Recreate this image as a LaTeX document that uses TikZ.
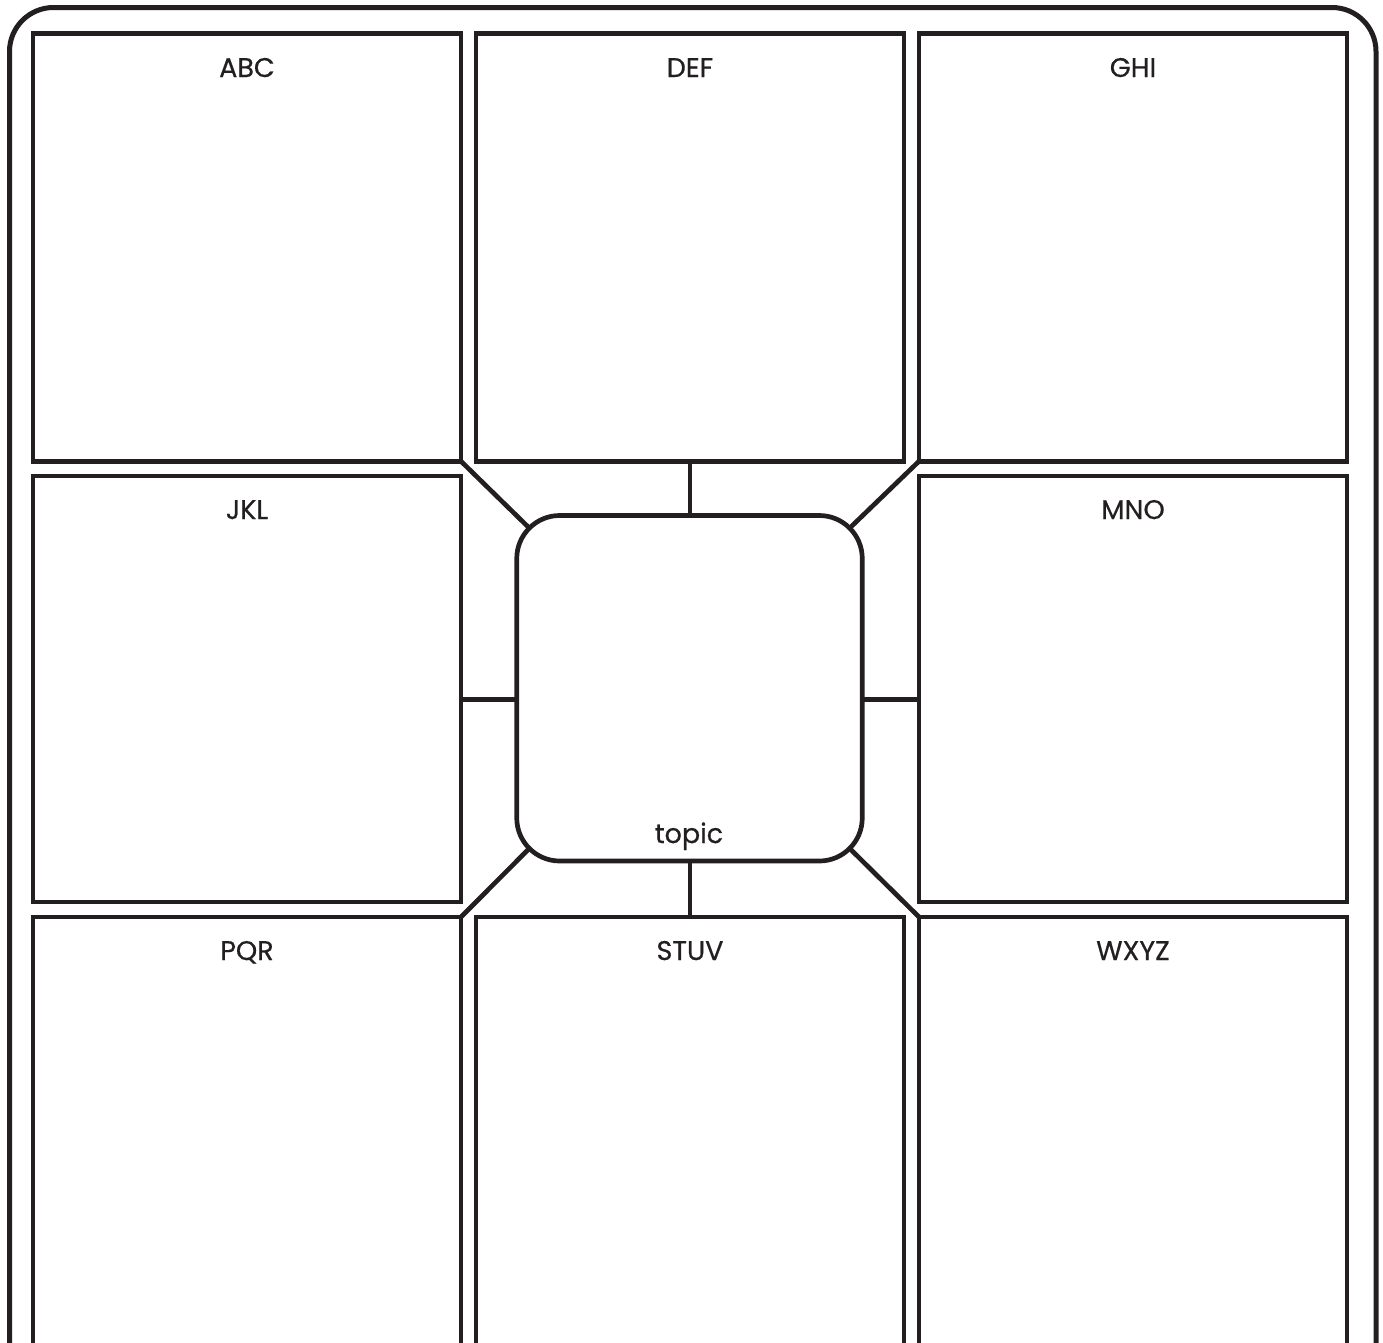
\documentclass[tikz,border=0pt]{standalone}
\usepackage{fontspec}
\setmainfont{Poppins}
\newfontfamily\lblfont{Poppins}[FakeBold=0.6]
\definecolor{ink}{RGB}{35,31,32}
\begin{document}
\begin{tikzpicture}[x=1pt,y=-1pt,
  line/.style={draw=ink,line width=4.7pt},
  box/.style={line,rectangle,inner sep=0pt,outer sep=0pt,minimum width=428pt},
  lbl/.style={anchor=base,inner sep=0pt,text=ink,font=\lblfont\fontsize{27}{30}\selectfont},
  hub/.style={line,rectangle,rounded corners=43pt,inner sep=0pt,outer sep=0pt,minimum width=345.5pt,minimum height=345.5pt},
  frame/.style={draw=ink,line width=5pt,rectangle,rounded corners=44pt,inner sep=0pt,outer sep=0pt}]
\path[use as bounding box,clip] (0,0) rectangle (1383,1342);
% outer frame
\node[frame,minimum width=1366.5pt,minimum height=1420pt] (frm) at (692.75,717.5) {};
% boxes
\node[box,minimum height=427.5pt] (abc) at (247,247.5) {};
\node[box,minimum height=427.5pt] (def) at (690,247.5) {};
\node[box,minimum height=427.5pt] (ghi) at (1133,247.5) {};
\node[box,minimum height=426pt] (jkl) at (247,689) {};
\node[box,minimum height=426pt] (mno) at (1133,689) {};
\node[box,minimum height=483pt] (pqr) at (247,1158.5) {};
\node[box,minimum height=483pt] (stuv) at (690,1158.5) {};
\node[box,minimum height=483pt] (wxyz) at (1133,1158.5) {};
% labels
\node[lbl] (tabc) at (247,77) {ABC};
\node[lbl] (tdef) at (690,77) {DEF};
\node[lbl] (tghi) at (1133,77) {GHI};
\node[lbl] (tjkl) at (247,519) {JKL};
\node[lbl] (tmno) at (1133,519) {MNO};
\node[lbl] (tpqr) at (247,960) {PQR};
\node[lbl] (tstuv) at (690,960) {STUV};
\node[lbl] (twxyz) at (1133,960) {WXYZ};
% hub
\node[hub] (topicbox) at (689.5,688.25) {};
\node[lbl] (ttopic) at (689,843) {topic};
% connectors
\coordinate (hy) at (0,699.5);
\draw[line] (def.south) -- (topicbox.north -| def.south);
\draw[line] (stuv.north) -- (topicbox.south -| stuv.north);
\draw[line] (jkl.east |- hy) -- (topicbox.west |- hy);
\draw[line] (mno.west |- hy) -- (topicbox.east |- hy);
\draw[line] (abc.south east) -- ([shift={(12.6,12.6)}]topicbox.north west);
\draw[line] (ghi.south west) -- ([shift={(-12.6,12.6)}]topicbox.north east);
\draw[line] (pqr.north east) -- ([shift={(12.6,-12.6)}]topicbox.south west);
\draw[line] (wxyz.north west) -- ([shift={(-12.6,-12.6)}]topicbox.south east);
\end{tikzpicture}
\end{document}
